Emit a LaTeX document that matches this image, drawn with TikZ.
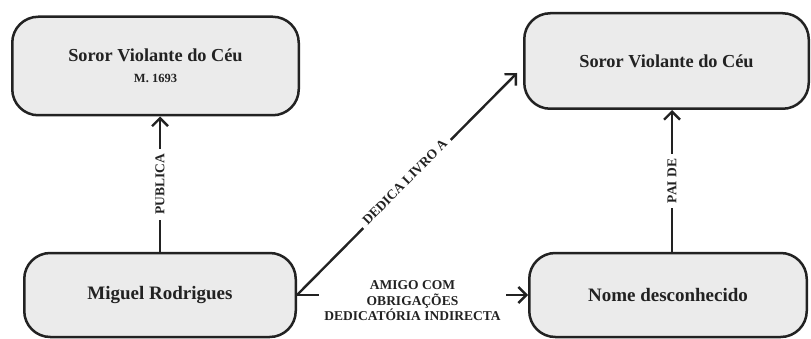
\documentclass[tikz,border=0pt]{standalone}
\usepackage{fontspec}
\setmainfont{Liberation Serif}
\usepackage{tikz}
\usetikzlibrary{arrows.meta,positioning,calc}

\definecolor{boxfill}{HTML}{EBEBEB}
\definecolor{ink}{HTML}{222222}

\begin{document}
\begin{tikzpicture}[
    x=1pt, y=-1pt,
    font=\bfseries,
    >={Straight Barb[length=8pt,width=16pt]},
    box/.style={draw=ink, fill=boxfill, line width=2.5pt, rounded corners=26pt, align=center, inner sep=4pt, text=ink},
    arr/.style={->, line width=2.4pt, draw=ink},
    lbl/.style={fill=white, text=ink, inner sep=5pt, align=center, font=\bfseries\fontsize{13.5}{15.5}\selectfont}
]
    \useasboundingbox (0,0) rectangle (811,339);

    \node[box, minimum width=286.5pt, minimum height=98.5pt, font=\bfseries\fontsize{18.3}{21}\selectfont] (soror1) at (155.5,66)
        {Soror Violante do Céu\\{\fontsize{12.5}{14}\selectfont M. 1693}};
    \node[box, minimum width=284.5pt, minimum height=95.5pt, font=\bfseries\fontsize{18.3}{21}\selectfont] (soror2) at (666.5,61) {Soror Violante do Céu};
    \node[box, minimum width=271.5pt, minimum height=84pt, font=\bfseries\fontsize{19}{22}\selectfont] (miguel) at (160,295) {Miguel Rodrigues};
    \node[box, minimum width=277.5pt, minimum height=84pt, font=\bfseries\fontsize{19}{22}\selectfont] (nome) at (668,295) {Nome desconhecido};

    \coordinate (dtip) at ($(soror2.west)+(-6,12)$);

    \draw[arr] (miguel.north) -- node[lbl, rotate=90, midway] (pub) {PUBLICA} (miguel.north |- soror1.south);
    \draw[arr] ([xshift=4pt]nome.north) -- node[lbl, rotate=90, midway] (pai) {PAI DE} ([xshift=4pt]nome.north |- soror2.south);
    \draw[arr] (miguel.east) -- node[lbl, sloped, midway, yshift=3pt] (ded) {DEDICA LIVRO A} (dtip);
    \draw[arr] (miguel.east) -- node[lbl, midway, yshift=-6pt] (amigo) {AMIGO COM\\OBRIGAÇÕES\\DEDICATÓRIA INDIRECTA} (nome.west);
\end{tikzpicture}
\end{document}
